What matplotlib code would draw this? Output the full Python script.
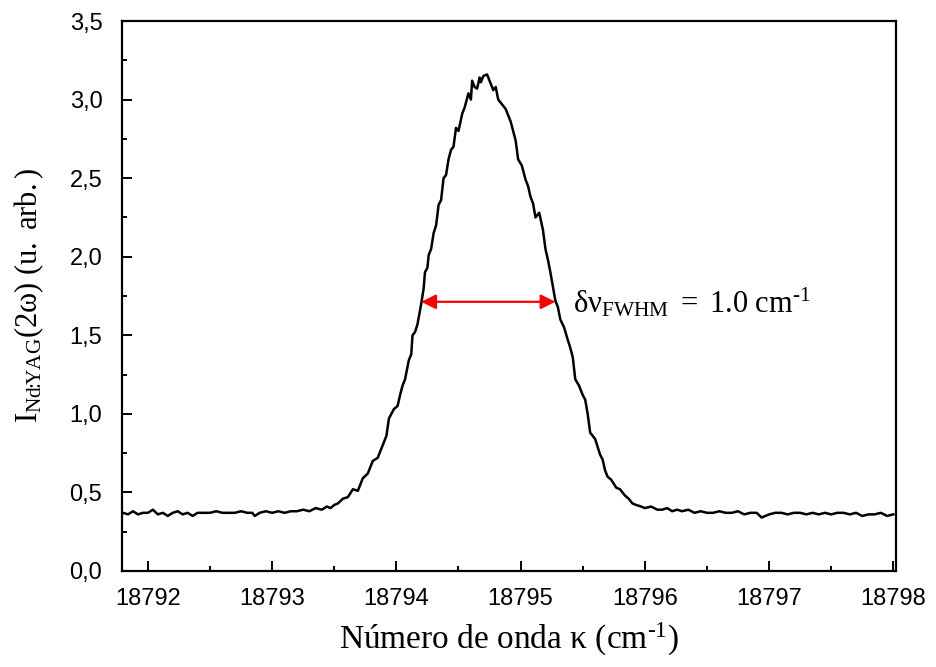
import matplotlib
matplotlib.use("Agg")
import matplotlib.pyplot as plt
from matplotlib.ticker import MultipleLocator, FuncFormatter

plt.rcParams['mathtext.fontset'] = 'custom'
plt.rcParams['mathtext.rm'] = 'Liberation Serif'
plt.rcParams['mathtext.it'] = 'Liberation Serif:italic'
plt.rcParams['mathtext.bf'] = 'Liberation Serif:bold'

# Spectrum (wavenumber in cm^-1, intensity in arb. units)
wavenumber = [
    18791.80, 18791.84, 18791.88, 18791.92, 18791.96, 18792.00, 18792.04, 18792.08,
    18792.12, 18792.16, 18792.20, 18792.24, 18792.28, 18792.32, 18792.36, 18792.40,
    18792.45, 18792.50, 18792.55, 18792.60, 18792.65, 18792.70, 18792.75, 18792.80,
    18792.84, 18792.86, 18792.90, 18792.95, 18793.00, 18793.05, 18793.10, 18793.15,
    18793.20, 18793.25, 18793.30, 18793.35, 18793.40, 18793.44, 18793.47, 18793.50,
    18793.53, 18793.57, 18793.61, 18793.65, 18793.69, 18793.73, 18793.77, 18793.81,
    18793.85, 18793.88, 18793.90, 18793.92, 18793.94, 18793.98, 18794.01, 18794.03,
    18794.05, 18794.07, 18794.10, 18794.12, 18794.13, 18794.15, 18794.17, 18794.20,
    18794.22, 18794.23, 18794.25, 18794.26, 18794.28, 18794.30, 18794.32, 18794.34,
    18794.36, 18794.38, 18794.40, 18794.42, 18794.44, 18794.46, 18794.48, 18794.50,
    18794.53, 18794.55, 18794.58, 18794.60, 18794.61, 18794.63, 18794.65, 18794.67,
    18794.68, 18794.70, 18794.73, 18794.75, 18794.78, 18794.80, 18794.82, 18794.85,
    18794.88, 18794.90, 18794.92, 18794.94, 18794.96, 18794.98, 18795.01, 18795.04,
    18795.06, 18795.08, 18795.10, 18795.12, 18795.15, 18795.18, 18795.20, 18795.22,
    18795.24, 18795.26, 18795.28, 18795.30, 18795.32, 18795.35, 18795.38, 18795.40,
    18795.42, 18795.44, 18795.47, 18795.50, 18795.52, 18795.54, 18795.56, 18795.58,
    18795.60, 18795.62, 18795.64, 18795.66, 18795.68, 18795.70, 18795.73, 18795.77,
    18795.80, 18795.84, 18795.87, 18795.90, 18795.93, 18795.97, 18796.00, 18796.05,
    18796.10, 18796.14, 18796.18, 18796.22, 18796.26, 18796.30, 18796.35, 18796.40,
    18796.45, 18796.50, 18796.55, 18796.60, 18796.65, 18796.70, 18796.75, 18796.80,
    18796.85, 18796.90, 18796.94, 18796.97, 18797.00, 18797.05, 18797.10, 18797.15,
    18797.20, 18797.25, 18797.30, 18797.35, 18797.40, 18797.45, 18797.50, 18797.55,
    18797.60, 18797.65, 18797.70, 18797.75, 18797.80, 18797.85, 18797.90, 18797.95,
    18798.00,
]
intensity = [
    0.37, 0.36, 0.38, 0.36, 0.37, 0.37, 0.39, 0.36,
    0.37, 0.35, 0.37, 0.38, 0.36, 0.37, 0.35, 0.37,
    0.37, 0.37, 0.38, 0.37, 0.37, 0.37, 0.38, 0.37,
    0.37, 0.35, 0.37, 0.38, 0.37, 0.38, 0.37, 0.38,
    0.38, 0.39, 0.38, 0.40, 0.39, 0.41, 0.40, 0.42,
    0.43, 0.46, 0.47, 0.52, 0.51, 0.59, 0.62, 0.70,
    0.72, 0.78, 0.82, 0.86, 0.97, 1.03, 1.05, 1.12,
    1.18, 1.22, 1.34, 1.38, 1.50, 1.52, 1.57, 1.70,
    1.80, 1.90, 1.93, 2.01, 2.05, 2.15, 2.20, 2.33,
    2.36, 2.50, 2.52, 2.62, 2.68, 2.70, 2.82, 2.80,
    2.91, 2.95, 3.04, 3.00, 3.12, 3.08, 3.07, 3.14,
    3.11, 3.15, 3.16, 3.12, 3.06, 3.08, 3.00, 2.97,
    2.94, 2.90, 2.86, 2.80, 2.74, 2.62, 2.58, 2.49,
    2.45, 2.38, 2.34, 2.25, 2.28, 2.17, 2.05, 1.98,
    1.90, 1.81, 1.72, 1.68, 1.60, 1.55, 1.47, 1.42,
    1.36, 1.22, 1.18, 1.12, 1.09, 1.00, 0.88, 0.86,
    0.84, 0.79, 0.74, 0.71, 0.64, 0.60, 0.58, 0.53,
    0.52, 0.48, 0.46, 0.43, 0.42, 0.41, 0.40, 0.41,
    0.39, 0.39, 0.40, 0.38, 0.39, 0.38, 0.39, 0.37,
    0.38, 0.37, 0.37, 0.38, 0.37, 0.37, 0.38, 0.36,
    0.37, 0.37, 0.34, 0.35, 0.36, 0.37, 0.37, 0.36,
    0.37, 0.37, 0.36, 0.37, 0.36, 0.37, 0.36, 0.37,
    0.37, 0.36, 0.37, 0.35, 0.36, 0.36, 0.37, 0.35,
    0.36,
]

# FWHM marker
fwhm_left = 18794.20
fwhm_right = 18795.28
fwhm_level = 1.713
fwhm_label = r'$\mathrm{δν_{FWHM}\ =\ 1.0\ cm^{‐1}}$'

x_ticks = [18792, 18793, 18794, 18795, 18796, 18797, 18798]
y_ticks = [0.0, 0.5, 1.0, 1.5, 2.0, 2.5, 3.0, 3.5]

fig = plt.figure(figsize=(9.37, 6.67), dpi=100)
ax = fig.add_axes([0.130, 0.144, 0.826, 0.8245])

ax.plot(wavenumber, intensity, color='black', lw=1.8)

ax.annotate('', xy=(fwhm_left, fwhm_level), xytext=(fwhm_right, fwhm_level),
            arrowprops=dict(arrowstyle='<|-|>', color='red', lw=1.6,
                            mutation_scale=22, shrinkA=0, shrinkB=0))
ax.text(18795.42, fwhm_level, fwhm_label, fontsize=22, va='center', ha='left',
        color='black')

ax.set_xlim(18791.79, 18798.02)
ax.set_ylim(0, 3.5)
ax.set_xticks(x_ticks)
ax.set_yticks(y_ticks)
ax.xaxis.set_minor_locator(MultipleLocator(0.5))
ax.yaxis.set_minor_locator(MultipleLocator(0.25))
ax.xaxis.set_major_formatter(FuncFormatter(lambda v, p: f'{v:.0f}'))
ax.yaxis.set_major_formatter(FuncFormatter(lambda v, p: f'{v:.1f}'.replace('.', ',')))

for s in ax.spines.values():
    s.set_linewidth(1.6)

ax.tick_params(axis='both', which='major', direction='in', length=7, width=1.4,
               labelsize=17)
ax.tick_params(axis='x', which='major', pad=12)
ax.tick_params(axis='y', which='major', pad=14)
ax.tick_params(axis='both', which='minor', direction='in', length=3.6, width=1.4)
for lab in ax.get_xticklabels() + ax.get_yticklabels():
    lab.set_family('Liberation Sans')

ax.set_xlabel(r'Número de onda κ (cm$^{\mathrm{‐1}}$)', fontsize=24,
              family='Liberation Serif', va='center')
ax.set_ylabel(r'$\mathrm{I_{Nd\!\!:\!\!YAG}(2ω)\ (u.\ arb.)}$', fontsize=22,
              family='Liberation Serif', va='center')
ax.xaxis.set_label_coords(0.5, -0.125)
ax.yaxis.set_label_coords(-0.119, 0.5)

fig.savefig('out.png', dpi=100)
